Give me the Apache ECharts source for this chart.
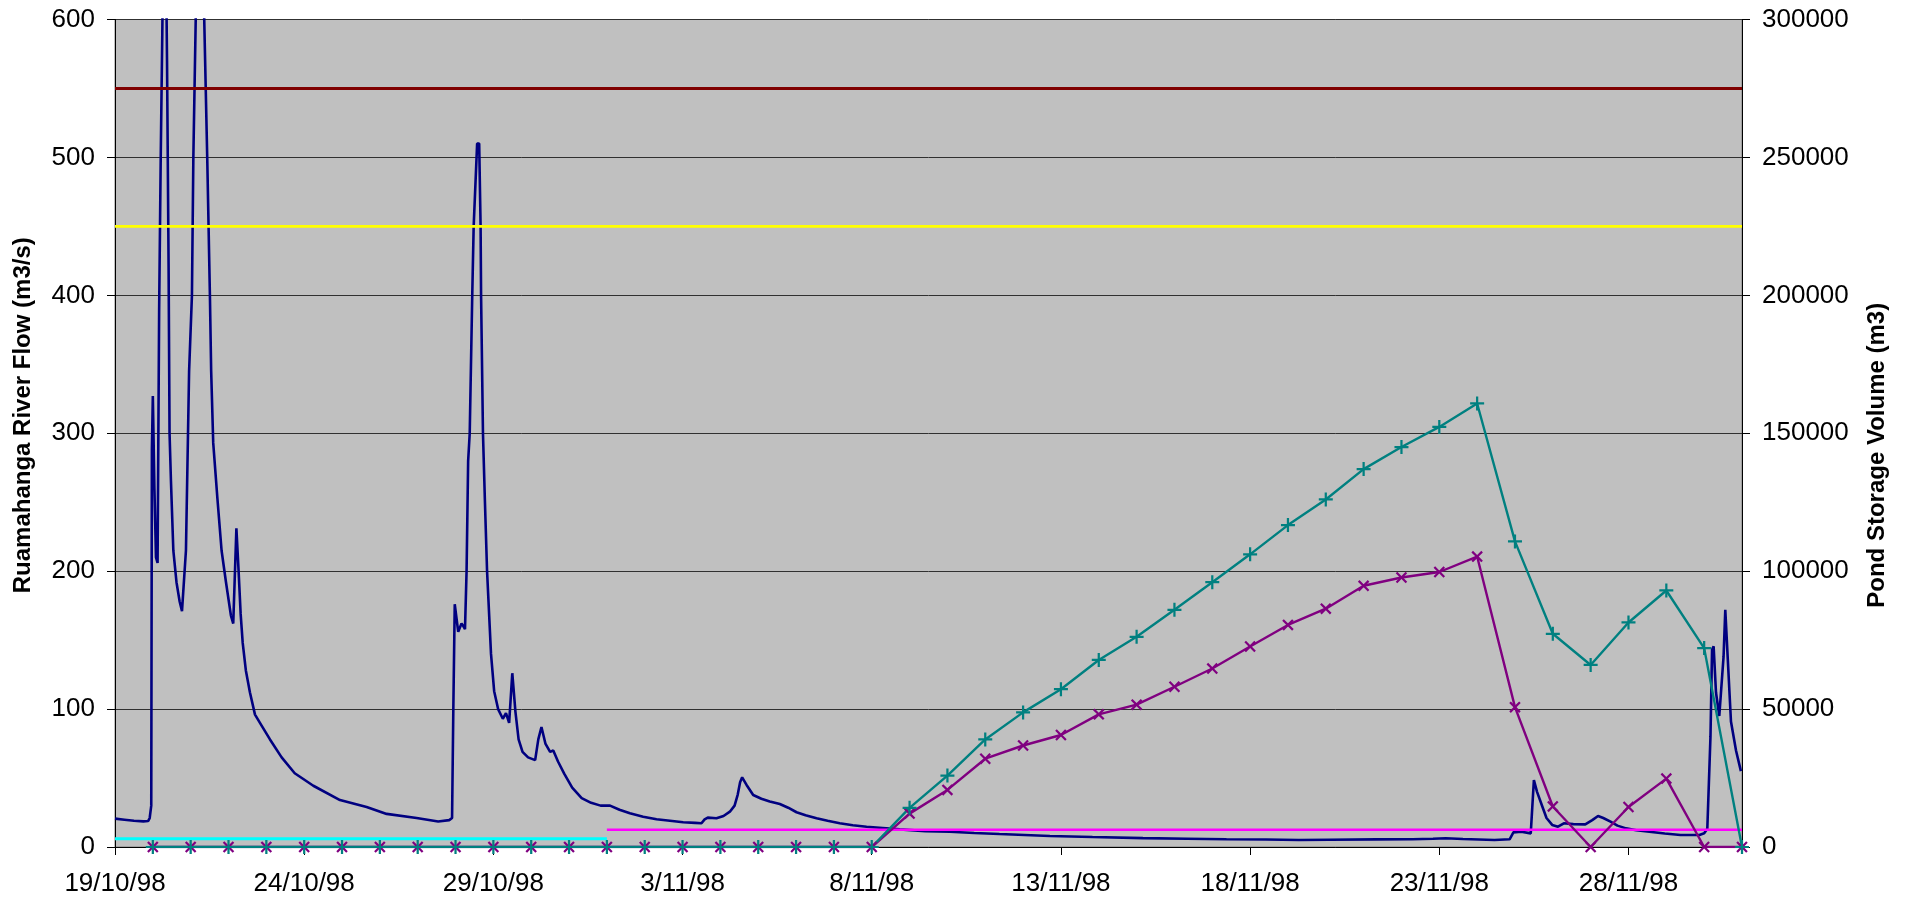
<!DOCTYPE html>
<html>
<head>
<meta charset="utf-8">
<title>Ruamahanga River Flow and Pond Storage</title>
<script src="https://cdn.jsdelivr.net/npm/echarts/dist/echarts.min.js"></script>
<style>
  html, body { margin: 0; padding: 0; background: #fff; }
  #main { width: 1910px; height: 903px; }
</style>
</head>
<body>
<div id="main"></div>
<script>
// start of the x axis is 19/10/98, x values are days from there
const startDate = Date.UTC(1998, 9, 19)
const axisDays = 43
const tickDays = 5

// river flow record: [hours since 19/10/98 00:00, m3/s]
const flowRecords = [
  [0, 20.6], [6, 19.8], [12, 19.0], [18, 18.6], [21, 18.8], [22, 21], [23, 30], [23.4, 288],
  [24, 327], [25, 260], [26, 210], [27, 206], [28, 390], [29, 500], [30, 590], [31.5, 740],
  [33, 570], [34, 420], [34.6, 300], [35.5, 265], [37, 215], [39, 192], [41, 178], [42.5, 171],
  [43.5, 172], [45, 215], [47, 345], [48.8, 400], [49.7, 500], [51.2, 600], [53.5, 780],
  [56.6, 600], [58.5, 500], [60.2, 400], [61, 345], [62.3, 293], [65, 252], [67.6, 215],
  [70.4, 192], [73.5, 168], [75, 162], [77, 231], [78.4, 200], [79.7, 169], [81, 148], [83, 128],
  [85.6, 112], [88.8, 96], [93, 88], [98.3, 78], [105.7, 65], [114, 53.5], [125.8, 44.4],
  [142.7, 34], [159.6, 29], [172.3, 24], [191.3, 21], [205, 18.5], [212, 19.5], [213.8, 21],
  [214.6, 100], [215.5, 176], [217.7, 156], [219.8, 162], [221, 160], [222, 158], [223, 200],
  [224, 280], [225, 300], [226.6, 400], [227.5, 450], [229.7, 510], [231, 510], [231.9, 450],
  [232.2, 400], [233.4, 300], [234.6, 252], [236, 200], [238.5, 140], [240.5, 113], [243, 100],
  [246, 93], [248, 97], [250, 90], [252, 126], [254, 98], [256, 78], [258.5, 69], [262, 65],
  [266.5, 63], [268.5, 78], [270.5, 87], [273, 75], [276, 69], [278, 70], [281, 62], [285, 53],
  [290, 43], [296, 35.5], [302, 32], [308, 30], [314, 30], [320, 27], [326.6, 24.4], [335, 22],
  [343.5, 20.1], [352, 19], [360.4, 17.9], [368, 17.5], [372, 17.2], [374, 20], [376, 21.3],
  [381.5, 20.8], [386, 22.5], [390, 25.6], [393, 30], [395, 38], [396.5, 47], [397.8, 50.5],
  [400.6, 45], [404.8, 37.7], [410, 35], [415.3, 33], [421.7, 31.2], [427, 28.5], [432.3, 25.2],
  [438, 23], [445, 20.8], [452, 19], [459.7, 17.2], [468, 15.8], [476.7, 14.7], [487, 13.8],
  [497.8, 12.8], [514, 11.5], [529.5, 11.1], [545, 10.2], [561, 9.4], [577, 8.7], [593, 8],
  [620, 7.2], [652, 6.4], [680, 6], [705, 5.6], [730, 5.4], [751, 5.1], [770, 5.3], [800, 5.5],
  [823, 5.6], [836, 6.0], [844, 6.3], [855, 5.8], [875, 5.1], [884.6, 5.6], [887, 10.6],
  [892, 11.1], [898, 9.9], [899, 10.5], [900, 48.6], [902, 40], [905.4, 29.2], [908, 21],
  [911.6, 16], [915.3, 14.7], [919, 17.2], [925, 16.6], [932.6, 16.4], [937, 19.5], [940.7, 22.5],
  [944, 21], [948.6, 18.4], [953, 15.5], [958.5, 13.5], [965, 12.2], [973.2, 11.1], [983, 9.8],
  [993, 8.7], [1005, 8.7], [1008, 10], [1010, 13.3], [1012, 80], [1013, 143], [1014, 145.5],
  [1015.5, 112], [1017.6, 95], [1018.7, 96], [1020.3, 138], [1021.4, 172], [1022.9, 138],
  [1025, 91], [1028.2, 70], [1031.3, 55]
]

// daily pond storage volumes (m3), first value is 20/10/98
const pondFirstDay = 1
const pondVolumeA = [
  0, 0, 0, 0, 0, 0, 0, 0, 0, 0, 0, 0, 0, 0, 0, 0, 0, 0, 0, 0,
  14200, 25900, 39000, 48800, 57200, 67800, 76200, 86000, 96000, 106100, 116700,
  126000, 137000, 145000, 152300, 160800, 110800, 77300, 66000, 81400, 93000, 72100, 0
]
const pondVolumeB = [
  0, 0, 0, 0, 0, 0, 0, 0, 0, 0, 0, 0, 0, 0, 0, 0, 0, 0, 0, 0,
  12100, 20700, 32000, 36800, 40600, 48100, 51600, 58100, 64700, 72700, 80500,
  86400, 94700, 97700, 99700, 105300, 50700, 14700, 0, 14500, 24800, 0, 0
]

// flow levels (m3/s) drawn as flat lines: [from day, to day, value]
const redLevel = [0, 43, 550]
const yellowLevel = [0, 43, 450]
const cyanLevel = [0, 13, 6]
const magentaLevel = [13, 43, 12.5]

const flowTicks = { min: 0, max: 600, interval: 100 }
const pondTicks = { min: 0, max: 300000, interval: 50000 }

const font = 'Liberation Sans, Arial, sans-serif'
const plusPath = 'path://M4.2,0H5.8V4.2H10V5.8H5.8V10H4.2V5.8H0V4.2H4.2Z'

const dateLabel = (v) => {
  const d = new Date(startDate + v * 86400000)
  return d.getUTCDate() + '/' + (d.getUTCMonth() + 1) + '/' + String(d.getUTCFullYear()).slice(2)
}

const levelLine = (lvl, color, width) => ({
  type: 'line',
  yAxisIndex: 0,
  symbol: 'none',
  silent: true,
  lineStyle: { color: color, width: width },
  data: [[lvl[0], lvl[2]], [lvl[1], lvl[2]]]
})

const chartBox = echarts.init(document.getElementById('main'))
const option = {
  animation: false,
  backgroundColor: '#ffffff',
  grid: {
    left: 115,
    right: 168,
    top: 19.5,
    bottom: 56,
    show: true,
    backgroundColor: '#c0c0c0',
    borderColor: '#808080',
    borderWidth: 1,
    outerBoundsMode: 'none'
  },
  xAxis: {
    type: 'value',
    min: 0,
    max: axisDays,
    interval: tickDays,
    splitLine: { show: false },
    axisLine: { onZero: false, lineStyle: { color: '#000', width: 1 } },
    axisTick: { show: true, length: 8, lineStyle: { color: '#000' } },
    axisLabel: {
      showMaxLabel: false,
      margin: 24,
      color: '#000',
      fontFamily: font,
      fontSize: 26,
      formatter: dateLabel
    }
  },
  yAxis: [
    {
      type: 'value',
      position: 'left',
      min: flowTicks.min,
      max: flowTicks.max,
      interval: flowTicks.interval,
      name: 'Ruamahanga River Flow (m3/s)',
      nameLocation: 'middle',
      nameGap: 80,
      nameMoveOverlap: false,
      nameTextStyle: {
        color: '#000',
        fontFamily: font,
        fontSize: 24,
        fontWeight: 'bold',
        padding: [0, 0, 0, 36]
      },
      axisLine: { show: true, lineStyle: { color: '#000', width: 1 } },
      axisTick: { show: true, length: 8, lineStyle: { color: '#000' } },
      splitLine: { show: true, lineStyle: { color: '#303030', width: 1 } },
      axisLabel: { margin: 20, color: '#000', fontFamily: font, fontSize: 26 }
    },
    {
      type: 'value',
      position: 'right',
      min: pondTicks.min,
      max: pondTicks.max,
      interval: pondTicks.interval,
      name: 'Pond Storage Volume (m3)',
      nameLocation: 'middle',
      nameGap: 123,
      nameMoveOverlap: false,
      nameTextStyle: {
        color: '#000',
        fontFamily: font,
        fontSize: 24,
        fontWeight: 'bold',
        padding: [0, 44, 0, 0]
      },
      axisLine: { show: true, lineStyle: { color: '#000', width: 1 } },
      axisTick: { show: true, length: 8, lineStyle: { color: '#000' } },
      splitLine: { show: false },
      axisLabel: {
        margin: 20,
        color: '#000',
        fontFamily: font,
        fontSize: 26,
        formatter: (v) => String(v)
      }
    }
  ],
  series: [
    {
      name: 'River Flow',
      type: 'line',
      yAxisIndex: 0,
      symbol: 'none',
      lineStyle: { color: '#000080', width: 2.6 },
      data: flowRecords.map((r) => [r[0] / 24, r[1]])
    },
    levelLine(cyanLevel, '#00ffff', 3),
    levelLine(magentaLevel, '#ff00ff', 2.6),
    levelLine(yellowLevel, '#ffff00', 2.6),
    levelLine(redLevel, '#800000', 3),
    {
      name: 'Pond B',
      type: 'line',
      yAxisIndex: 1,
      symbol: plusPath,
      symbolSize: 14,
      symbolRotate: 45,
      showAllSymbol: true,
      itemStyle: { color: '#800080' },
      lineStyle: { color: '#800080', width: 2.4 },
      data: pondVolumeB.map((v, i) => [pondFirstDay + i, v])
    },
    {
      name: 'Pond A',
      type: 'line',
      yAxisIndex: 1,
      symbol: plusPath,
      symbolSize: 14,
      showAllSymbol: true,
      itemStyle: { color: '#008080' },
      lineStyle: { color: '#008080', width: 2.4 },
      data: pondVolumeA.map((v, i) => [pondFirstDay + i, v])
    }
  ]
}
chartBox.setOption(option)
</script>
</body>
</html>
